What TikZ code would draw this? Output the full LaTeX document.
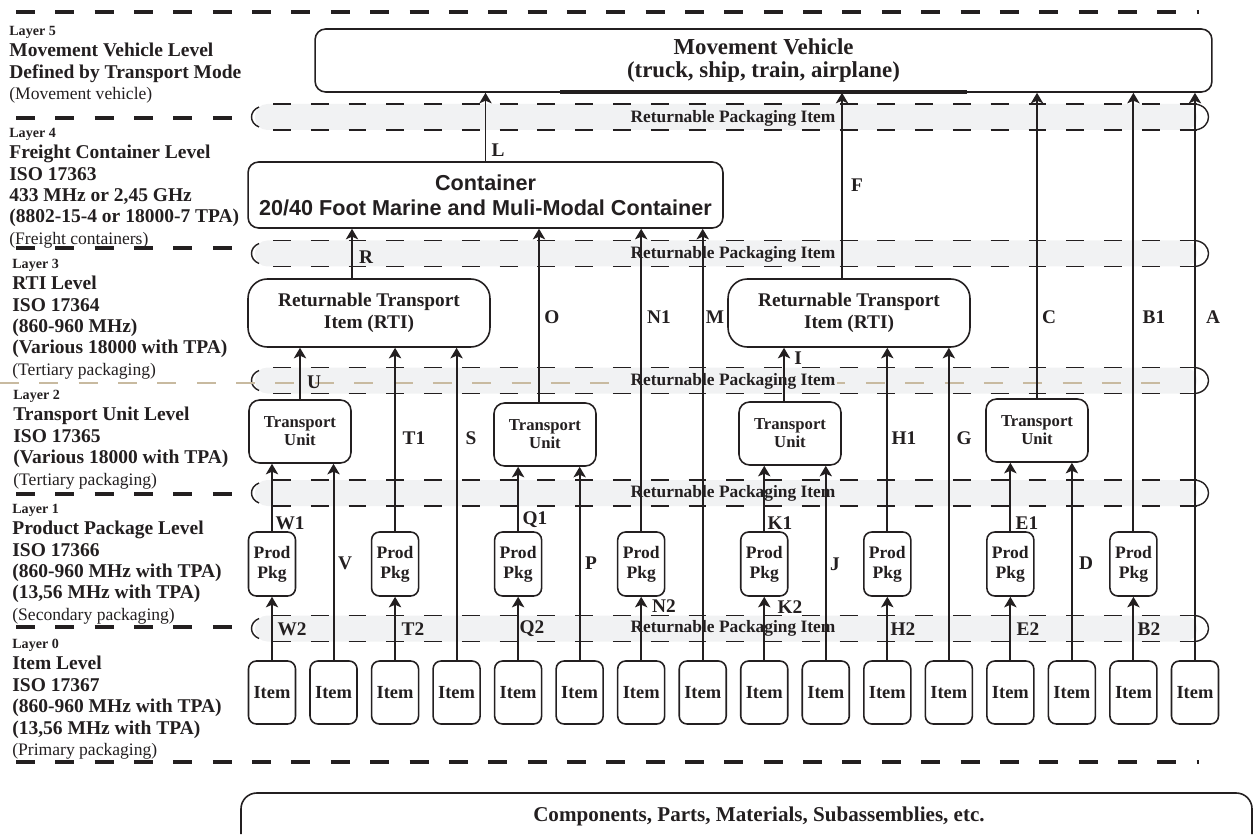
\documentclass[tikz,border=0pt]{standalone}
\usepackage{fontspec}
\setmainfont{Liberation Serif}
\newfontfamily\contfont{Liberation Sans}
\usetikzlibrary{arrows.meta}
\definecolor{ink}{RGB}{35, 31, 32}
\definecolor{bandgray}{RGB}{241, 242, 243}
\definecolor{beige}{RGB}{200, 186, 160}
\newcommand{\layerno}[1]{{\fontsize{8}{12.2}\selectfont #1}}
\newcommand{\layernote}[1]{{\mdseries\fontsize{10}{12.2}\selectfont #1}}

\begin{document}
\begin{tikzpicture}[x=0.02cm, y=-0.02cm, ink]
    \tikzstyle{box} = [draw=ink, line width=0.9pt, align=center, inner sep=0pt];
    \tikzstyle{itemblock} = [box, rounded corners=4.5pt, minimum width=0.94cm, minimum height=1.26cm,
    font=\fontsize{10.5}{12}\selectfont\bfseries];
    \tikzstyle{pkgblock} = [box, rounded corners=4.5pt, minimum width=0.94cm, minimum height=1.28cm,
    font=\fontsize{10}{11.3}\selectfont\bfseries];
    \tikzstyle{tublock} = [box, rounded corners=6pt, minimum width=2.04cm, minimum height=1.26cm,
    font=\fontsize{9.5}{10.2}\selectfont\bfseries];
    \tikzstyle{rtiblock} = [box, rounded corners=11pt, minimum width=4.84cm, minimum height=1.36cm,
    font=\fontsize{11}{12.5}\selectfont\bfseries];
    \tikzstyle{contblock} = [box, rounded corners=6pt, minimum width=9.5cm, minimum height=1.32cm,
    font=\contfont\fontsize{12.3}{14.2}\selectfont\bfseries];
    \tikzstyle{mvblock} = [box, rounded corners=6pt, minimum width=17.94cm, minimum height=1.26cm,
    font=\fontsize{13}{13.6}\selectfont\bfseries];
    \tikzstyle{layertext} = [anchor=north west, align=left, inner sep=0pt, font=\fontsize{11.1}{12.2}\selectfont\bfseries];
    \tikzstyle{lab} = [inner sep=0pt, font=\fontsize{11}{12}\selectfont\bfseries];
    \tikzstyle{bandtext} = [fill=bandgray, inner sep=1pt, font=\fontsize{9.9}{11}\selectfont\bfseries];
    \tikzstyle{sep} = [line width=2pt, dash pattern=on 10.8pt off 11.6pt];
    \tikzstyle{banddash} = [line width=0.85pt, dash pattern=on 10.2pt off 11.3pt];
    \tikzstyle{line} = [draw=ink, line width=1.1pt, -{Stealth[length=6pt, width=7pt, inset=1.5pt]}];

    \useasboundingbox (0,0) rectangle (1256,834);

    % Layer separators
    \draw[sep] (16,12) -- (1199,12);
    \draw[sep] (16,118) -- (240,118);
    \draw[sep] (16,248) -- (240,248);
    \draw[sep] (16,494) -- (240,494);
    \draw[sep] (16,627) -- (240,627);
    \draw[sep] (16,762) -- (1199,762);

    % Returnable packaging bands
    \foreach \yc in {117,253.5,380.5,493,628.5} {
      \fill[bandgray, rounded corners=7pt] (255,\yc-13) rectangle (1197,\yc+13);
      \draw[banddash] (273,\yc-13) -- (1197,\yc-13);
      \draw[banddash] (273,\yc+13) -- (1197,\yc+13);
      \draw[line width=0.8pt] (259,\yc-10) .. controls (249,\yc-6) and (249,\yc+6) .. (259,\yc+10);
      \draw[line width=0.8pt] (1195,\yc-13) .. controls (1213,\yc-11) and (1213,\yc+11) .. (1195,\yc+13);
    }
    \draw[line width=1.7pt, beige, dash pattern=on 10.8pt off 11.6pt] (0,383) -- (1180,383);
    \foreach \yc [count=\k] in {118,254,381,493,628}
      \node[bandtext] (band\k) at (733,\yc) {Returnable Packaging Item};

    % Layer descriptions
    \node[layertext] (lay5) at (9,25.6) {\layerno{Layer 5}\\ Movement Vehicle Level\\ Defined by Transport Mode\\
      \layernote{(Movement vehicle)}};
    \node[layertext] (lay4) at (9,127.6) {\layerno{Layer 4}\\ Freight Container Level\\ ISO 17363\\ 433 MHz or 2,45 GHz\\
      (8802-15-4 or 18000-7 TPA)\\ \layernote{(Freight containers)}};
    \node[layertext] (lay3) at (12,258.6) {\layerno{Layer 3}\\ RTI Level\\ ISO 17364\\ (860-960 MHz)\\
      (Various 18000 with TPA)\\ \layernote{(Tertiary packaging)}};
    \node[layertext] (lay2) at (13,389.6) {\layerno{Layer 2}\\ Transport Unit Level\\ ISO 17365\\
      (Various 18000 with TPA)\\ \layernote{(Tertiary packaging)}};
    \node[layertext] (lay1) at (12,503.6) {\layerno{Layer 1}\\ Product Package Level\\ ISO 17366\\
      (860-960 MHz with TPA)\\ (13,56 MHz with TPA)\\ \layernote{(Secondary packaging)}};
    \node[layertext] (lay0) at (12,638.6) {\layerno{Layer 0}\\ Item Level\\ ISO 17367\\
      (860-960 MHz with TPA)\\ (13,56 MHz with TPA)\\ \layernote{(Primary packaging)}};

    % Blocks
    \node[mvblock] (mv) at (763.5,60.5) {Movement Vehicle\\ (truck, ship, train, airplane)};
    \draw[line width=1.8pt] (560,92) -- (967,92);
    \node[contblock] (cont) at (485.5,195) {Container\\ 20/40 Foot Marine and Muli-Modal Container};
    \node[rtiblock] (rti1) at (369,313) {Returnable Transport\\ Item (RTI)};
    \node[rtiblock] (rti2) at (849,313) {Returnable Transport\\ Item (RTI)};
    \node[tublock] (tu1) at (300,431.5) {Transport\\ Unit};
    \node[tublock] (tu2) at (545,434.5) {Transport\\ Unit};
    \node[tublock] (tu3) at (790,433.5) {Transport\\ Unit};
    \node[tublock] (tu4) at (1037,430.5) {Transport\\ Unit};
    \foreach \i in {1,3,...,15}
      \node[pkgblock] (pkg\i) at ({272+(\i-1)*61.53},564) {Prod\\ Pkg};
    \foreach \i in {1,...,16}
      \node[itemblock] (item\i) at ({272+(\i-1)*61.53},692.5) {Item};
    \node (comp) at (759,816) {\fontsize{12}{13}\selectfont\bfseries Components, Parts, Materials, Subassemblies, etc.};
    \draw[line width=0.9pt, rounded corners=9pt] (241,834) -- (241,793) -- (1252,793) -- (1252,834);

    % Links
    \tikzstyle{every path}=[line]
    \foreach \i in {1,3,...,15}
      \draw (item\i.north) -- (pkg\i.south);
    \draw (pkg1.north) -- (pkg1.north |- tu1.south);
    \draw (item2.north) -- (item2.north |- tu1.south);
    \draw (tu1.north) -- (tu1.north |- rti1.south);
    \draw (pkg3.north) -- (pkg3.north |- rti1.south);
    \draw (item4.north) -- (item4.north |- rti1.south);
    \coordinate (r0) at ([xshift=-0.34cm]rti1.north);
    \draw (r0) -- (r0 |- cont.south);
    \draw (pkg5.north) -- (pkg5.north |- tu2.south);
    \draw (item6.north) -- (item6.north |- tu2.south);
    \coordinate (o0) at ([xshift=-0.12cm]tu2.north);
    \draw (o0) -- (o0 |- cont.south);
    \draw (pkg7.north) -- (pkg7.north |- cont.south);
    \draw (item8.north) -- (item8.north |- cont.south);
    \draw (cont.north) -- (cont.north |- mv.south);
    \draw (pkg9.north) -- (pkg9.north |- tu3.south);
    \draw (item10.north) -- (item10.north |- tu3.south);
    \coordinate (i0) at ([xshift=-0.12cm]tu3.north);
    \draw (i0) -- (i0 |- rti2.south);
    \draw (pkg11.north) -- (pkg11.north |- rti2.south);
    \draw (item12.north) -- (item12.north |- rti2.south);
    \coordinate (f0) at ([xshift=-0.14cm]rti2.north);
    \draw (f0) -- (f0 |- mv.south);
    \draw (pkg13.north) -- (pkg13.north |- tu4.south);
    \draw (item14.north) -- (item14.north |- tu4.south);
    \draw (tu4.north) -- (tu4.north |- mv.south);
    \draw (pkg15.north) -- (pkg15.north |- mv.south);
    \draw (item16.north) -- (item16.north |- mv.south);
    \tikzstyle{every path}=[]

    % Link labels
    \node[lab] (lL) at (498,150) {L};
    \node[lab] (lF) at (857,185) {F};
    \node[lab] (lR) at (366,257) {R};
    \node[lab] (lO) at (552,317) {O};
    \node[lab] (lN1) at (659,317) {N1};
    \node[lab] (lM) at (715,317) {M};
    \node[lab] (lC) at (1049,317) {C};
    \node[lab] (lB1) at (1154,317) {B1};
    \node[lab] (lA) at (1213,317) {A};
    \node[lab] (lI) at (798,358) {I};
    \node[lab] (lU) at (314,382) {U};
    \node[lab] (lT1) at (414,438) {T1};
    \node[lab] (lS) at (471,438) {S};
    \node[lab] (lH1) at (904,438) {H1};
    \node[lab] (lG) at (964,438) {G};
    \node[lab] (lW1) at (290,523) {W1};
    \node[lab] (lQ1) at (535,520) {Q1};
    \node[lab] (lK1) at (780,523) {K1};
    \node[lab] (lE1) at (1027,523) {E1};
    \node[lab] (lV) at (345,563) {V};
    \node[lab] (lP) at (591,563) {P};
    \node[lab] (lJ) at (835,564) {J};
    \node[lab] (lD) at (1086,563) {D};
    \node[lab] (lN2) at (664,606) {N2};
    \node[lab] (lK2) at (790,607) {K2};
    \node[lab] (lW2) at (292,629) {W2};
    \node[lab] (lT2) at (413,629) {T2};
    \node[lab] (lQ2) at (532,629) {Q2};
    \node[lab] (lH2) at (903,629) {H2};
    \node[lab] (lE2) at (1028,629) {E2};
    \node[lab] (lB2) at (1149,629) {B2};
\end{tikzpicture}
\end{document}
